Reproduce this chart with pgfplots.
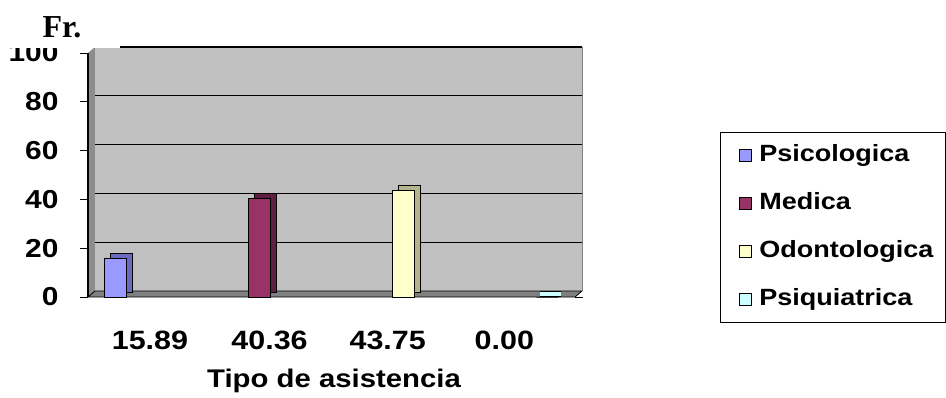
\documentclass[border=0pt]{standalone}
\usepackage{fontspec}
\setmainfont[FakeStretch=1.15]{Liberation Sans}
\newfontfamily\serifbf{Liberation Serif}
\usepackage{pgfplots}
\pgfplotsset{compat=1.18}
\definecolor{wall}{HTML}{C0C0C0}
\definecolor{lwall}{HTML}{8C8C8C}
\definecolor{floorc}{HTML}{808080}
\definecolor{c1}{HTML}{9999FF}\definecolor{c1s}{HTML}{6A6AC0}
\definecolor{c2}{HTML}{993366}\definecolor{c2s}{HTML}{5E1F40}
\definecolor{c3}{HTML}{FFFFCC}\definecolor{c3s}{HTML}{B4B48E}
\definecolor{c4}{HTML}{CCFFFF}\definecolor{c4s}{HTML}{86B4B4}
\pgfplotsset{
  front/.style={ybar, bar width=22pt, bar shift=0pt, fill=#1, draw=black, line width=0.8pt,
    legend image code/.code={\path (0pt,0pt); \draw[fill=#1,draw=black,line width=0.8pt] (9pt,-6pt) rectangle (21pt,6pt);}},
  depth/.style={ybar, bar width=22pt, bar shift=0pt, fill=#1, draw=black, line width=0.8pt,
    xshift=6pt, yshift=5pt, forget plot},
}
\begin{document}
\begin{tikzpicture}[x=1pt,y=1pt]
\useasboundingbox (0,0) rectangle (946,397);
\begin{axis}[
  at={(88pt,100pt)}, anchor=south west, scale only axis, width=487pt, height=244pt,
  xmin=-0.19, xmax=3.19, ymin=0, ymax=100, clip=false,
  axis line style={draw=none},
  ytick={0,20,40,60,80,100},
  xtick={0.24,1.07,1.89,2.70}, xticklabels={15.89,40.36,43.75,0.00},
  tick align=outside, major tick length=8pt,
  x tick style={draw=none}, y tick style={black,line width=1pt},
  /pgf/number format/assume math mode=true,
  xticklabel style={font=\fontsize{26.5}{27}\selectfont\bfseries, yshift=-22pt},
  yticklabel style={font=\fontsize{26}{27}\selectfont\bfseries, xshift=-18pt},
  legend style={at={(axis description cs:1.2977,0.6762)}, anchor=north west,
    draw=black, line width=1pt, font=\fontsize{23.5}{24}\selectfont\bfseries,
    inner xsep=10pt, inner ysep=10pt, row sep=22pt,
    nodes={text height=17pt,text depth=5pt,inner sep=2pt},
    /tikz/every odd column/.append style={column sep=5pt}},
  legend cell align=left,
]
% walls and floor
\fill[wall] ([shift={(7pt,6pt)}]axis cs:-0.19,0) rectangle ([shift={(7pt,6pt)}]axis cs:3.19,100);
\fill[lwall] (axis cs:-0.19,0) -- ([shift={(7pt,6pt)}]axis cs:-0.19,0) -- ([shift={(7pt,6pt)}]axis cs:-0.19,100) -- (axis cs:-0.19,100) -- cycle;
\filldraw[fill=floorc,draw=black,line width=0.8pt] (axis cs:-0.19,0) -- (axis cs:3.19,0) -- ([shift={(7pt,6pt)}]axis cs:3.19,0) -- ([shift={(7pt,6pt)}]axis cs:-0.19,0) -- cycle;
\draw[gray,line width=0.8pt] ([shift={(7pt,6pt)}]axis cs:3.19,0) -- ([shift={(7pt,6pt)}]axis cs:3.19,100);
\pgfplotsinvokeforeach{20,40,60,80,100}{
  \draw[black,line width=1.2pt] ([shift={(7pt,6pt)}]axis cs:-0.19,#1) -- ([shift={(7pt,6pt)}]axis cs:3.19,#1);
}
\draw[black,line width=1.2pt] (axis cs:-0.19,0) -- (axis cs:-0.19,100);
% bars
\addplot[depth=c1s] coordinates {(0,15.89)};
\addplot[front=c1] coordinates {(0,15.89)};
\addlegendentry{Psicologica}
\addplot[depth=c2s] coordinates {(1,40.36)};
\addplot[front=c2] coordinates {(1,40.36)};
\addlegendentry{Medica}
\addplot[depth=c3s] coordinates {(2,43.75)};
\addplot[front=c3] coordinates {(2,43.75)};
\addlegendentry{Odontologica}
\addplot[ybar, bar width=21pt, bar shift=0pt, draw=black, line width=6.5pt, xshift=3pt, yshift=3pt, forget plot] coordinates {(3,0.00)};
\addplot[ybar, bar width=21pt, bar shift=0pt, draw=c4, line width=4.5pt, xshift=3pt, yshift=3pt, forget plot] coordinates {(3,0.00)};
\addplot[front=c4] coordinates {(3,0.00)};
\addlegendentry{Psiquiatrica}
\end{axis}
\fill[white] (0,348.5) rectangle (120,397);
\node[font=\serifbf\bfseries\fontsize{32}{32}\selectfont] at (62,370) {Fr.};
\node[anchor=base,font=\bfseries\fontsize{25.5}{26}\selectfont] at (334,10) {Tipo de asistencia};
\end{tikzpicture}
\end{document}
